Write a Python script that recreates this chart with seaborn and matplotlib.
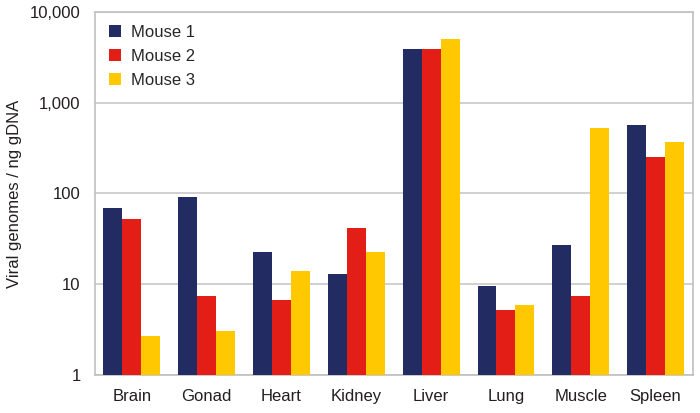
# -*- coding: utf-8 -*-

import matplotlib
matplotlib.use('Agg')
import matplotlib.pyplot as plt
from matplotlib.ticker import FuncFormatter, FixedLocator, NullLocator
from matplotlib.patches import Patch
import seaborn as sns
import numpy as np
import pandas as pd

## data
tissues = ['Brain', 'Gonad', 'Heart', 'Kidney', 'Liver', 'Lung', 'Muscle', 'Spleen']
mice = ['Mouse 1', 'Mouse 2', 'Mouse 3']
mouse1 = [69, 92, 23, 13, 3900, 9.6, 27, 565]
mouse2 = [52, 7.4, 6.7, 42, 3900, 5.2, 7.4, 254]
mouse3 = [2.7, 3.1, 14, 23, 5050, 5.9, 530, 365]
colors = ['#232B63', '#E31E16', '#FFC800']

df = pd.DataFrame({'tissue': tissues * 3,
                   'mouse': np.repeat(mice, len(tissues)),
                   'value': mouse1 + mouse2 + mouse3})

sns.set_style('white')
plt.rcParams['font.family'] = ['Liberation Sans', 'DejaVu Sans']

fig = plt.figure(figsize=(7, 4.13), dpi=100)
ax = fig.add_axes([0.135, 0.091, 0.855, 0.881])
ax.set_yscale('log')

sns.barplot(data=df, x='tissue', y='value', hue='mouse', palette=colors,
            width=0.76, gap=0, ax=ax, legend=False, saturation=1,
            edgecolor='none', linewidth=0, zorder=3)

ax.set_ylim(1, 10000)
ax.set_xlim(-0.5, len(tissues) - 0.5)
ax.yaxis.set_major_locator(FixedLocator([1, 10, 100, 1000, 10000]))
ax.yaxis.set_minor_locator(NullLocator())
ax.yaxis.set_major_formatter(FuncFormatter(lambda v, p: '{:,.0f}'.format(v)))
ax.yaxis.grid(True, color='#C8C8C8', linewidth=1.2, zorder=0)
ax.set_axisbelow(True)

# labels at group centres, ticks at group boundaries
ax.set_xticks(np.arange(-0.5, len(tissues)), labels=[''] * (len(tissues) + 1))
ax.set_xticks(np.arange(len(tissues)), labels=tissues, minor=True)
ax.tick_params(axis='x', which='major', direction='out', length=6, width=1, color='#A0A0A0')
ax.tick_params(axis='x', which='minor', length=0, pad=10, labelsize=12, labelcolor='#231F20')
ax.tick_params(axis='y', which='major', direction='out', length=6, width=1, color='#A0A0A0',
               labelsize=12, labelcolor='#231F20', pad=4)

for s in ax.spines.values():
    s.set_color('#C0C0C0')
    s.set_linewidth(1.2)

ax.set_xlabel('')
ax.set_ylabel('Viral genomes / ng gDNA', fontsize=12, color='#231F20', labelpad=6)

handles = [Patch(facecolor=c, edgecolor='none') for c in colors]
ax.legend(handles, mice, loc='upper left', bbox_to_anchor=(0.005, 0.995), frameon=False,
          fontsize=12, handlelength=0.7, handleheight=0.7, handletextpad=0.6,
          labelspacing=0.53, borderaxespad=0.3)

fig.savefig('out.png', dpi=100)
